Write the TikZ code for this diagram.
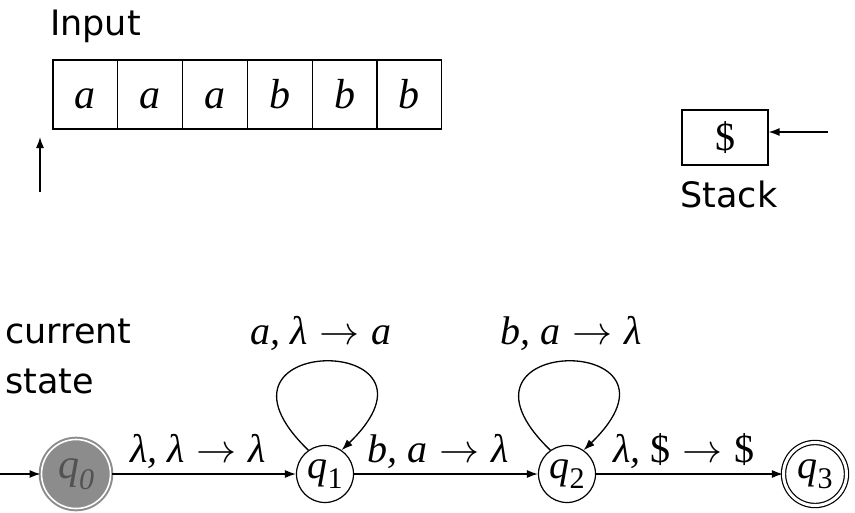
\documentclass[tikz,border=0pt]{standalone}
\usepackage{fix-cm}
\usepackage{fontspec}
\setmainfont{DejaVu Sans}
\newfontfamily\mth{Liberation Serif}
\usetikzlibrary{arrows.meta}
\newcommand{\myto}{\hspace{0.3em}\(\rightarrow\)\hspace{0.3em}}
\tikzset{
  lbl/.style={font=\fontsize{35}{40}\selectfont, inner sep=0pt},
  mlbl/.style={font=\mth\itshape\fontsize{40}{46}\selectfont, inner sep=0pt},
  cell/.style={draw, line width=1.2pt, minimum width=64.8pt, minimum height=69pt, inner sep=0pt,
    text height=31.5pt, text depth=3.5pt, font=\mth\itshape\fontsize{42}{46}\selectfont},
  stackbox/.style={draw, line width=1.2pt, minimum width=86pt, minimum height=55pt, inner sep=0pt,
    font=\mth\fontsize{40}{44}\selectfont},
  st/.style={circle, draw, line width=1.2pt, minimum size=57pt, inner sep=0pt,
    font=\mth\itshape\fontsize{40}{44}\selectfont},
  curst/.style={circle, draw=black!45, fill=black!45, text=black!68, line width=2pt, double=white,
    double distance=1.6pt, minimum size=69pt, inner sep=0pt, font=\mth\itshape\fontsize{42}{46}\selectfont},
  accst/.style={st, double, double distance=3pt, minimum size=63pt},
  tr/.style={line width=1.3pt, -{Latex[length=11pt,width=8pt]}},
}
\begin{document}
\begin{tikzpicture}[x=1pt,y=-1pt]
\useasboundingbox[fill=white] (0,0) rectangle (855,512);
% input
\node[lbl, anchor=base west] (inp) at (50,35) {Input};
\node[cell] (c1) at (85.4,94.5) {a};
\node[cell] (c2) at (150.2,94.5) {a};
\node[cell] (c3) at (215.0,94.5) {a};
\node[cell] (c4) at (279.8,94.5) {b};
\node[cell] (c5) at (344.6,94.5) {b};
\node[cell] (c6) at (409.4,94.5) {b};
\coordinate (h0) at (40,192);
\coordinate (h1) at (40,137);
\draw[tr] (h0) -- (h1);
% stack
\node[stackbox] (stk) at (725,137.5) {\$};
\coordinate (sa) at (828,132);
\draw[tr] (sa) -- (stk.east |- sa);
\node[lbl, anchor=base] (stl) at (729,207) {Stack};
% current state
\node[lbl, anchor=base west] (cur) at (5,343) {current};
\node[lbl, anchor=base west] (sta) at (5,393) {state};
% states
\node[curst] (q0) at (76,474) {q\raisebox{-0.25em}{\fontsize{30}{30}\selectfont 0}};
\node[st] (q1) at (325,474) {q\raisebox{-0.25em}{\fontsize{30}{30}\selectfont\upshape 1}};
\node[st] (q2) at (567,474) {q\raisebox{-0.25em}{\fontsize{30}{30}\selectfont\upshape 2}};
\node[accst] (q3) at (815,474) {q\raisebox{-0.25em}{\fontsize{30}{30}\selectfont\upshape 3}};
\coordinate (s0) at (0,474);
\draw[tr] (s0) -- (q0);
\draw[tr] (q0) -- (q1);
\draw[tr] (q1) -- (q2);
\draw[tr] (q2) -- (q3);
\draw[tr] (q1.125) .. controls +(-122,-118) and +(122,-118) .. (q1.55);
\draw[tr] (q2.125) .. controls +(-122,-118) and +(122,-118) .. (q2.55);
% labels
\node[mlbl, anchor=base] (l01) at (198,462) {λ, λ\myto λ};
\node[mlbl, anchor=base] (l12) at (438,462) {b, a\myto λ};
\node[mlbl, anchor=base] (l23) at (684,462) {λ, \textup{\$\myto\$}};
\node[mlbl, anchor=base] (l11) at (321,344) {a, λ\myto a};
\node[mlbl, anchor=base] (l22) at (571,344) {b, a\myto λ};
\end{tikzpicture}
\end{document}
